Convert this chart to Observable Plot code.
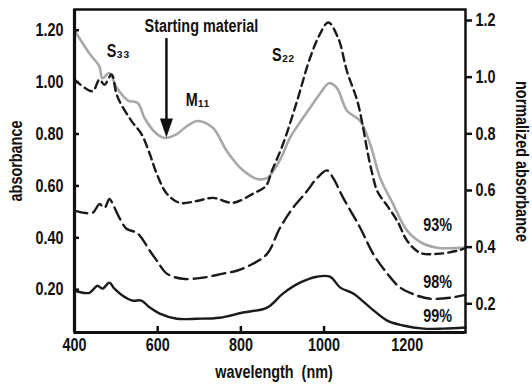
<!DOCTYPE html>
<html><head><meta charset="utf-8">
<script src="https://cdn.jsdelivr.net/npm/d3@7"></script>
<script src="https://cdn.jsdelivr.net/npm/@observablehq/plot@0.6"></script>
<style>
html,body{margin:0;padding:0;background:#fff;}
#chart svg text{white-space:pre;}
</style></head><body><div id="chart"></div>
<script>
// ---- data (wavelength nm, absorbance on left axis) ----
const wl93 = [400,436,460,467,484,501,528,552,569,598,617,646,670,696,733,766,805,839,863,870,894,918,942,966,990,1012,1031,1055,1087,1111,1135,1166,1200,1239,1272,1300,1340];
const ab93 = [1.20,1.11,1.06,1.015,1.035,0.98,0.93,0.92,0.86,0.80,0.785,0.80,0.83,0.85,0.823,0.735,0.66,0.627,0.63,0.64,0.70,0.785,0.845,0.90,0.955,0.996,0.977,0.89,0.85,0.76,0.63,0.53,0.427,0.377,0.362,0.36,0.362];

const wlStart = [400,443,460,472,489,500,508,537,561,581,598,622,653,694,733,781,829,860,875,901,935,966,990,1010,1034,1055,1080,1094,1104,1116,1128,1152,1176,1200,1231,1272,1320,1340];
const abStart = [1.01,0.965,1.01,0.99,1.03,0.96,0.927,0.85,0.80,0.723,0.646,0.57,0.535,0.542,0.554,0.535,0.57,0.60,0.66,0.76,0.927,1.092,1.185,1.23,1.17,1.042,0.927,0.823,0.735,0.646,0.58,0.523,0.465,0.388,0.342,0.338,0.35,0.36];

const wl98 = [400,443,460,472,484,492,508,525,549,561,581,598,622,660,708,757,790,829,863,894,925,959,983,1007,1022,1046,1087,1118,1152,1183,1224,1255,1304,1340];
const ab98 = [0.505,0.496,0.53,0.515,0.55,0.53,0.477,0.435,0.42,0.40,0.35,0.312,0.262,0.242,0.246,0.262,0.273,0.30,0.338,0.438,0.515,0.58,0.63,0.66,0.63,0.554,0.438,0.338,0.262,0.208,0.177,0.165,0.169,0.18];

const wl99 = [400,436,455,467,484,496,516,540,561,581,605,646,694,749,805,863,901,942,983,1014,1039,1070,1111,1152,1190,1239,1287,1340];
const ab99 = [0.196,0.188,0.215,0.204,0.227,0.204,0.177,0.158,0.158,0.131,0.108,0.088,0.088,0.092,0.112,0.131,0.185,0.227,0.25,0.25,0.208,0.185,0.131,0.081,0.062,0.05,0.05,0.054];

// axes
const xTickLabels = [400,600,800,1000,1200];
const xTickMarks = [600,800,1000];
const leftTicks = [0.20,0.40,0.60,0.80,1.00,1.20];
const rightTicks = [0.2,0.4,0.6,0.8,1.0,1.2];
// right axis (normalized) -> left axis value: v = rA * r + rB
const rA = 1.092, rB = -0.0728;

// annotations
const peakText = ["S\u2083\u2083","M\u2081\u2081","S\u2082\u2082"];
const peakWl = [505,696,902];
const peakAb = [1.118,0.93,1.103];
const pctText = ["93%","98%","99%"];
const pctWl = [1273,1273,1273];
const pctAb = [0.449,0.228,0.096];
const startText = ["Starting material"];
const startWl = [705];
const startAb = [1.2145];
const arrowWl = [621];
const arrowTop = [1.168];
const arrowTip = [0.787];

const tbl = (w, a) => w.map((x, i) => ({wl: x, ab: a[i]}));
const FONT = "'Liberation Sans','Arial',sans-serif";
const head = {draw(ctx){ ctx.moveTo(0,0); ctx.lineTo(-6.5,-19); ctx.lineTo(6.5,-19); ctx.closePath(); }};
const yMin = 0.035, yMax = 1.28;

const chart = Plot.plot({
  width: 532, height: 387,
  marginLeft: 74, marginRight: 67, marginTop: 9, marginBottom: 55,
  style: {fontFamily: FONT, fontSize: "18px", fontWeight: "bold", color: "#111", background: "#fff"},
  x: {domain: [400, 1340]},
  y: {domain: [yMin, yMax]},
  marks: [
    Plot.line(tbl(wl93, ab93), {x: "wl", y: "ab", stroke: "#a8a8a8", strokeWidth: 2.6, curve: "catmull-rom"}),
    Plot.line(tbl(wlStart, abStart), {x: "wl", y: "ab", stroke: "#1a1a1a", strokeWidth: 2.4, strokeDasharray: "8,5", curve: "catmull-rom"}),
    Plot.line(tbl(wl98, ab98), {x: "wl", y: "ab", stroke: "#1a1a1a", strokeWidth: 2.4, strokeDasharray: "13,6", curve: "catmull-rom"}),
    Plot.line(tbl(wl99, ab99), {x: "wl", y: "ab", stroke: "#1a1a1a", strokeWidth: 2.4, curve: "catmull-rom"}),
    Plot.frame({stroke: "#111", strokeWidth: 2.5}),
    Plot.ruleX([400], {stroke: "#111", strokeWidth: 3.2}),
    Plot.ruleY([yMin], {stroke: "#111", strokeWidth: 3.2}),
    // x axis
    Plot.axisX({ticks: xTickMarks, tickSize: -6, tickFormat: () => "", label: null, strokeWidth: 2.5}),
    Plot.axisX({ticks: xTickLabels, tickSize: 0, tickPadding: 6, tickFormat: d => String(d), label: null, fontSize: 18}),
    // left axis
    Plot.axisY({anchor: "left", ticks: leftTicks, tickSize: -5, tickFormat: () => "", label: null, strokeWidth: 2.5}),
    Plot.axisY({anchor: "left", ticks: leftTicks, tickSize: 0, tickPadding: 11, tickFormat: d3.format(".2f"), label: null, fontSize: 18}),
    // right axis (normalized)
    Plot.axisY({anchor: "right", ticks: rightTicks.map(r => rA * r + rB), tickSize: 6, tickPadding: 4,
      tickFormat: v => d3.format(".1f")((v - rB) / rA), label: null, fontSize: 18, strokeWidth: 2.5}),
    // axis titles
    Plot.text(["absorbance"], {frameAnchor: "left", rotate: -90, textAnchor: "middle", lineAnchor: "middle", dx: -58, dy: -10, fontSize: 18, fontWeight: "bold"}),
    Plot.text(["normalized absorbance"], {frameAnchor: "right", rotate: 90, textAnchor: "middle", lineAnchor: "middle", dx: 56, dy: -9.5, fontSize: 18, fontWeight: "bold"}),
    Plot.text(["wavelength  (nm)"], {frameAnchor: "bottom", textAnchor: "middle", lineAnchor: "middle", dx: 4, dy: 40, fontSize: 18, fontWeight: "bold"}),
    // annotations
    Plot.text(startText, {x: startWl, y: startAb, text: d => d, fontSize: 18, fontWeight: "bold"}),
    Plot.ruleX(arrowWl, {x: d => d, y1: arrowTop, y2: arrowTip.map(v => v + 0.04), stroke: "#111", strokeWidth: 2.5}),
    Plot.dot(arrowWl, {x: d => d, y: arrowTip, symbol: head, r: 6, fill: "#111", stroke: "none"}),
    Plot.text(peakText, {x: peakWl, y: peakAb, text: d => d, fontSize: 18, fontWeight: "bold"}),
    Plot.text(pctText, {x: pctWl, y: pctAb, text: d => d, fontSize: 18, fontWeight: "bold"})
  ]
});
document.getElementById("chart").appendChild(chart);
// condense the glyphs (the original uses a narrow bold face)
d3.select(chart).selectAll("text").each(function() {
  const L = this.getComputedTextLength();
  if (L > 0) {
    this.setAttribute("textLength", (L * 0.8).toFixed(1));
    this.setAttribute("lengthAdjust", "spacingAndGlyphs");
  }
});
</script>
</body></html>
